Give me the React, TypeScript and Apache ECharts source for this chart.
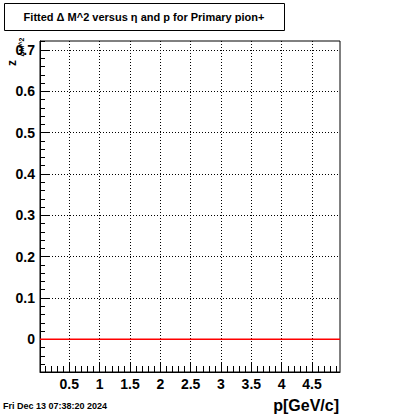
import React, { useEffect, useRef } from "react";
import * as echarts from "echarts";

// Axis ranges (read from the frame edges)
const xRange = [0.0173, 4.961];
const yRange = [-0.0791, 0.7218];

// Tick values and labels
const xMajorTicks = [0.5, 1, 1.5, 2, 2.5, 3, 3.5, 4, 4.5];
const xMinorStep = 0.1;
const yMajorTicks = [0, 0.1, 0.2, 0.3, 0.4, 0.5, 0.6, 0.7];
const yMinorStep = 0.02;

// Fitted line (flat at zero across the p range)
const fitP = [0.0173, 4.961];
const fitValue = [0, 0];

const titleText = "Fitted \u0394 M^2 versus \u03b7 and p for Primary pion+";
const xTitle = "p[GeV/c]";
const dateText = "Fri Dec 13 07:38:20 2024";

function stepValues(lo: number, hi: number, step: number): number[] {
  const out: number[] = [];
  const start = Math.ceil(lo / step - 1e-9);
  const end = Math.floor(hi / step + 1e-9);
  for (let i = start; i <= end; i++) out.push(Number((i * step).toFixed(6)));
  return out;
}

export default function App() {
  const ref = useRef<HTMLDivElement>(null);
  useEffect(() => {
    if (!ref.current) return;
    const chart = echarts.init(ref.current, undefined, { renderer: "svg" });
    const xMinor = stepValues(xRange[0], xRange[1], xMinorStep);
    const yMinor = stepValues(yRange[0], yRange[1], yMinorStep);
    const font = "Liberation Sans";
    const gridLine = { show: true, lineStyle: { color: "#000", width: 1, type: [1, 2] as any } };
    const labelStyle = { color: "#000", fontFamily: font, fontWeight: "bold" as const, fontSize: 14 };
    chart.setOption({
      animation: false,
      backgroundColor: "#fff",
      grid: { left: 40, right: 60, top: 41, bottom: 42, show: true, borderColor: "#000", borderWidth: 1, backgroundColor: "transparent" },
      xAxis: [
        {
          type: "value", min: xRange[0], max: xRange[1], position: "bottom",
          axisLine: { show: true, onZero: false, lineStyle: { color: "#000", width: 1 } },
          axisTick: { show: true, inside: true, length: 10, customValues: xMajorTicks, lineStyle: { color: "#000" } },
          axisLabel: { show: true, margin: 5, customValues: xMajorTicks, ...labelStyle, formatter: (v: number) => String(v) },
          splitLine: gridLine,
        },
        {
          type: "value", min: xRange[0], max: xRange[1], position: "bottom",
          axisLine: { show: false, onZero: false },
          axisTick: { show: true, inside: true, length: 6, customValues: xMinor, lineStyle: { color: "#000" } },
          axisLabel: { show: false },
          splitLine: { show: false },
        },
      ],
      yAxis: [
        {
          type: "value", min: yRange[0], max: yRange[1], position: "left",
          axisLine: { show: true, onZero: false, lineStyle: { color: "#000", width: 1 } },
          axisTick: { show: true, inside: true, length: 10, customValues: yMajorTicks, lineStyle: { color: "#000" } },
          axisLabel: { show: true, margin: 5, customValues: yMajorTicks, ...labelStyle, formatter: (v: number) => String(v) },
          splitLine: gridLine,
        },
        {
          type: "value", min: yRange[0], max: yRange[1], position: "left",
          axisLine: { show: false, onZero: false },
          axisTick: { show: true, inside: true, length: 5, customValues: yMinor, lineStyle: { color: "#000" } },
          axisLabel: { show: false },
          splitLine: { show: false },
        },
      ],
      series: [
        {
          type: "line",
          xAxisIndex: 0,
          yAxisIndex: 0,
          data: fitP.map((p, i) => [p, fitValue[i]]),
          symbol: "none",
          lineStyle: { color: "#ff0000", width: 1.5 },
          silent: true,
        },
      ],
      graphic: [
        {
          type: "rect",
          shape: { x: 4.5, y: 3.5, width: 280, height: 27 },
          style: { fill: "#fff", stroke: "#000", lineWidth: 1 },
        },
        {
          type: "text",
          x: 144, y: 17,
          style: {
            text: titleText,
            align: "center", verticalAlign: "middle",
            fontFamily: font, fontWeight: "bold", fontSize: 11, fill: "#000",
          },
        },
        {
          type: "text",
          x: 12, y: 63, rotation: Math.PI / 2,
          style: { text: "z", align: "center", verticalAlign: "middle", fontFamily: font, fontWeight: "bold", fontSize: 12, fill: "#000" },
        },
        {
          type: "text",
          x: 21, y: 47, rotation: Math.PI / 2,
          style: { text: "\u0394M^2", align: "center", verticalAlign: "middle", fontFamily: font, fontWeight: "bold", fontSize: 7, fill: "#000" },
        },
        {
          type: "text",
          x: 339, y: 405,
          style: { text: xTitle, align: "right", verticalAlign: "middle", fontFamily: font, fontWeight: "bold", fontSize: 16, fill: "#000" },
        },
        {
          type: "text",
          x: 3, y: 406,
          style: { text: dateText, align: "left", verticalAlign: "middle", fontFamily: font, fontWeight: "bold", fontSize: 9, fill: "#000" },
        },
      ],
    });
    return () => chart.dispose();
  }, []);
  return <div ref={ref} style={{ position: "absolute", left: 0, top: 0, width: 400, height: 414 }} />;
}
